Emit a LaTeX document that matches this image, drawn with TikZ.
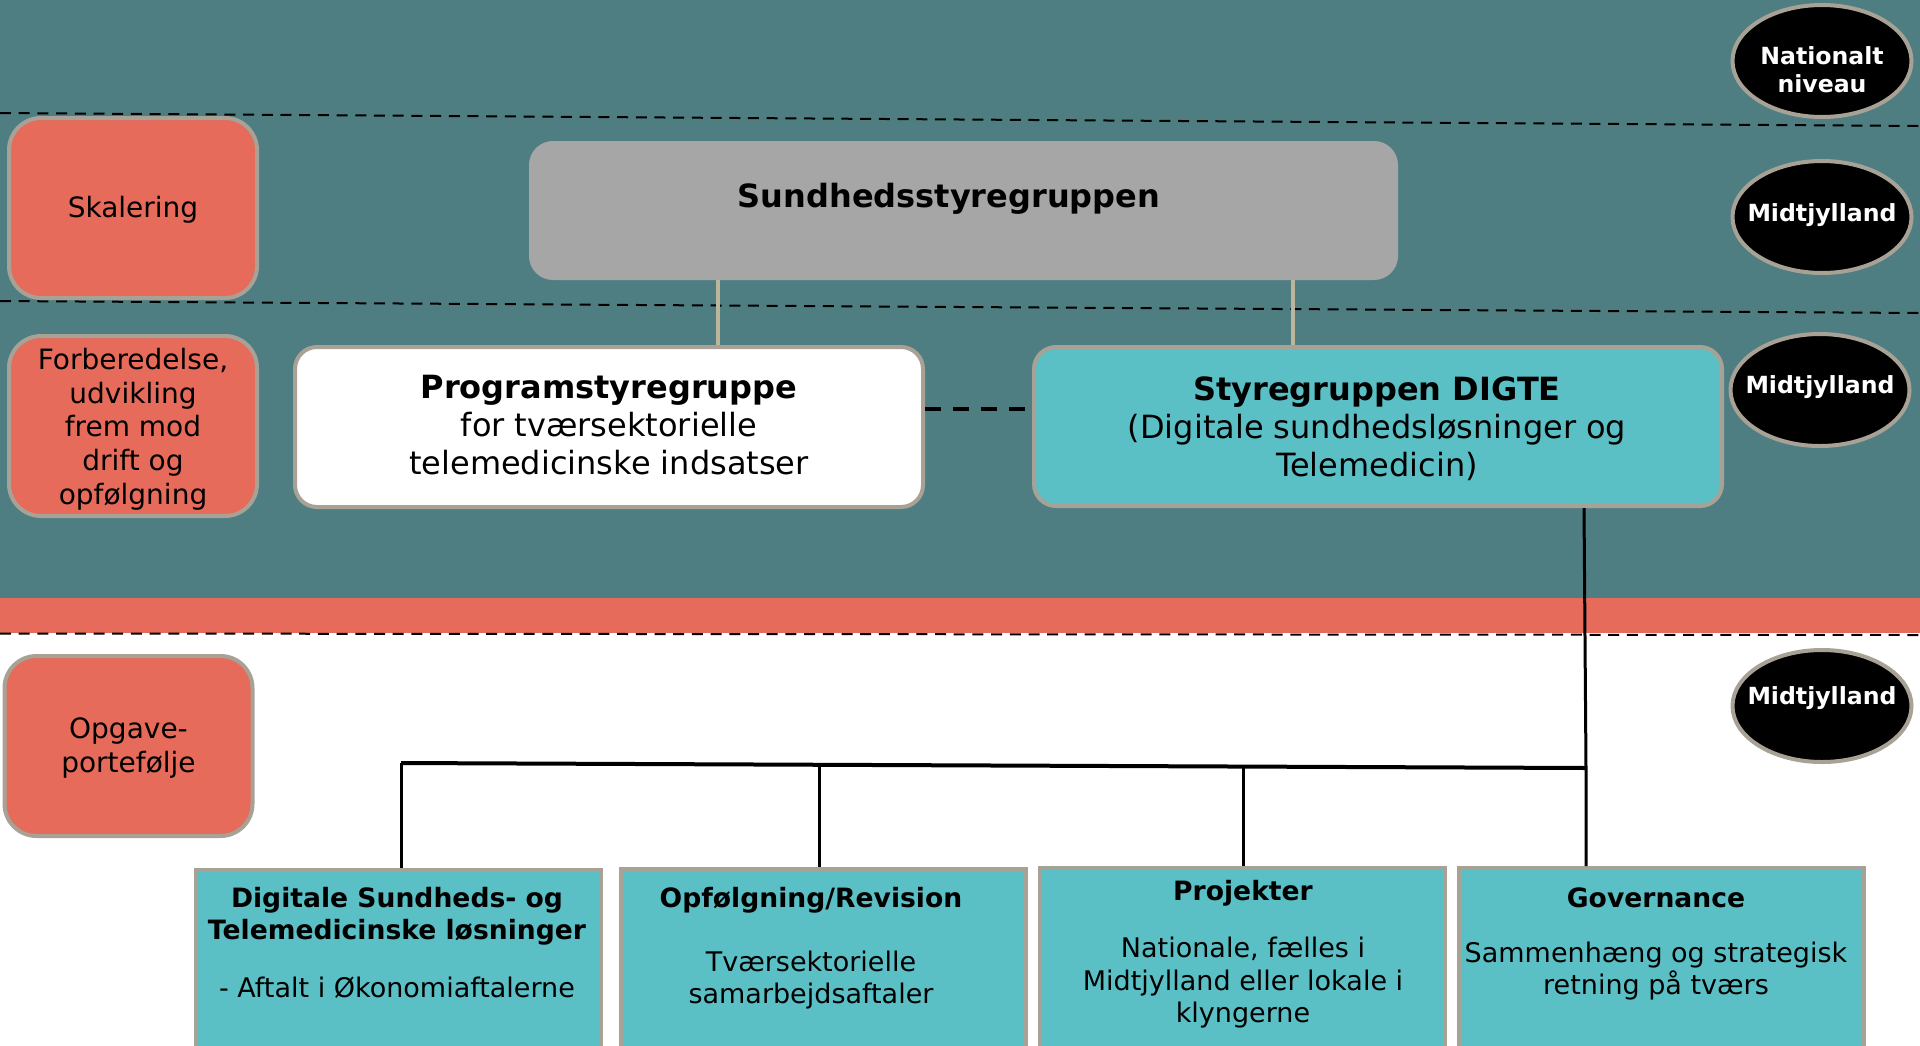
\documentclass[tikz,border=0pt]{standalone}
\usepackage{fontspec}
\setmainfont{DejaVu Sans}
\usetikzlibrary{shapes.geometric}
\definecolor{bgteal}{HTML}{4E7E82}
\definecolor{salmon}{HTML}{E66B5B}
\definecolor{lteal}{HTML}{5BC0C5}
\definecolor{boxgray}{HTML}{A6A6A6}
\definecolor{bordergray}{HTML}{A8A196}
\definecolor{tanline}{HTML}{BDB49C}
\tikzset{
  phase/.style={draw=bordergray, line width=4pt, fill=salmon, rounded corners=32pt,
    minimum width=248pt, minimum height=180pt, inner sep=0pt},
  phasetext/.style={align=center, inner sep=0pt, font=\fontsize{28}{33.7}\selectfont},
  level/.style={ellipse, draw=bordergray, line width=4pt, fill=black,
    minimum width=179pt, minimum height=112pt, inner sep=0pt},
  leveltext/.style={align=center, inner sep=0pt, text=white,
    font=\bfseries\fontsize{23.6}{28}\selectfont},
  groupbox/.style={draw=bordergray, line width=4pt, rounded corners=22pt, inner sep=0pt},
  tasktext/.style={align=center, inner sep=0pt, font=\fontsize{27}{32.5}\selectfont},
  tasktitle/.style={align=center, inner sep=0pt, font=\bfseries\fontsize{26.6}{32}\selectfont},
  grouptext/.style={align=center, inner sep=0pt, font=\fontsize{32}{38}\selectfont},
  taskbox/.style={draw=bordergray, line width=4pt, fill=lteal, inner sep=0pt,
    minimum width=405pt, minimum height=220pt, anchor=north},
  sepline/.style={dash pattern=on 11pt off 7.7pt, line width=2pt},
  tanlink/.style={draw=tanline, line width=4pt},
  blacklink/.style={draw=black, line width=3pt},
  peerlink/.style={draw=black, line width=4pt, dash pattern=on 16pt off 12pt},
}
\begin{document}
\begin{tikzpicture}[x=1pt, y=-1pt]
\useasboundingbox (0,0) rectangle (1920,1045);
% backgrounds
\fill[white] (0,0) rectangle (1920,1045);
\fill[bgteal] (0,0) rectangle (1920,598);
\fill[salmon] (0,598) rectangle (1920,633);
% separators
\draw[sepline] (0,113) -- (1920,126);
\draw[sepline] (0,301) -- (1920,313);
\draw[sepline] (0,633.5) -- (1920,635);

% phase boxes
\node[phase] (skal) at (133,208) {};
\node[phasetext] (skalt) at (133,210) {Skalering};
\node[phase] (forb) at (133,426) {};
\node[phasetext] (forbt) at (133,429) {Forberedelse,\\udvikling\\frem mod\\drift og\\opfølgning};
\node[phase] (opg) at (128.5,746) {};
\node[phasetext] (opgt) at (128.5,748) {Opgave-\\portefølje};

% level ellipses
\node[level] (nat) at (1822,61) {};
\node[leveltext] (natt) at (1822,70) {Nationalt\\niveau};
\node[level] (mj1) at (1822,217) {};
\node[leveltext] (mj1t) at (1822,215) {Midtjylland};
\node[level] (mj2) at (1820,390) {};
\node[leveltext] (mj2t) at (1820,387) {Midtjylland};
\node[level] (mj3) at (1822,706) {};
\node[leveltext] (mj3t) at (1822,698) {Midtjylland};

% groups
\node[groupbox, draw=boxgray, fill=boxgray, minimum width=865pt, minimum height=135pt] (sund) at (963.5,210.5) {};
\node[font=\bfseries\fontsize{32}{38}\selectfont, inner sep=0pt] (sundt) at (949,199) {Sundhedsstyregruppen};
\node[groupbox, fill=white, minimum width=628pt, minimum height=160pt] (prog) at (609,427) {};
\node[grouptext] (progt) at (609,425.5) {\textbf{Programstyregruppe}\\for tværsektorielle\\telemedicinske indsatser};
\node[groupbox, fill=lteal, minimum width=688pt, minimum height=159pt] (digte) at (1378,426.5) {};
\node[grouptext] (digtet) at (1377,429) {\textbf{Styregruppen DIGTE}\\(Digitale sundhedsløsninger og\\Telemedicin)};

\coordinate (x1) at (718,0);
\coordinate (x2) at (1292.5,0);
\coordinate (py) at (0,409);
\draw[tanlink] (x1 |- sund.south) -- (x1 |- prog.north);
\draw[tanlink] (x2 |- sund.south) -- (x2 |- digte.north);
\draw[peerlink] (py -| prog.east) -- (py -| digte.west);

% task boxes
\node[taskbox] (t1) at (398.5,868) {};
\node[taskbox] (t2) at (823,867) {};
\node[taskbox] (t3) at (1242.5,866) {};
\node[taskbox] (t4) at (1661.5,866) {};

\node[tasktitle] (t1a) at (397,916) {Digitale Sundheds- og\\Telemedicinske løsninger};
\node[tasktext] (t1b) at (397,988) {- Aftalt i Økonomiaftalerne};
\node[tasktitle] (t2a) at (811,900) {Opfølgning/Revision};
\node[tasktext] (t2b) at (811,980) {Tværsektorielle\\samarbejdsaftaler};
\node[tasktitle] (t3a) at (1243,893) {Projekter};
\node[tasktext] (t3b) at (1243,983) {Nationale, fælles i\\Midtjylland eller lokale i\\klyngerne};
\node[tasktitle] (t4a) at (1656,897.5) {Governance};
\node[tasktext] (t4b) at (1656,971) {Sammenhæng og strategisk\\retning på tværs};

% connectors
\coordinate (b1) at (401,763);
\coordinate (b2) at (819,764.8);
\coordinate (b3) at (1243,766.5);
\coordinate (b4) at (1586,768);
\coordinate (xd) at (1584,0);
\draw[blacklink] (xd |- digte.south) -- (b4) -- (b4 |- t4.north);
\draw[blacklink, line width=4pt] (b1) -- (b4);
\draw[blacklink] (b1) -- (b1 |- t1.north);
\draw[blacklink] (b2) -- (b2 |- t2.north);
\draw[blacklink] (b3) -- (b3 |- t3.north);
\end{tikzpicture}
\end{document}
